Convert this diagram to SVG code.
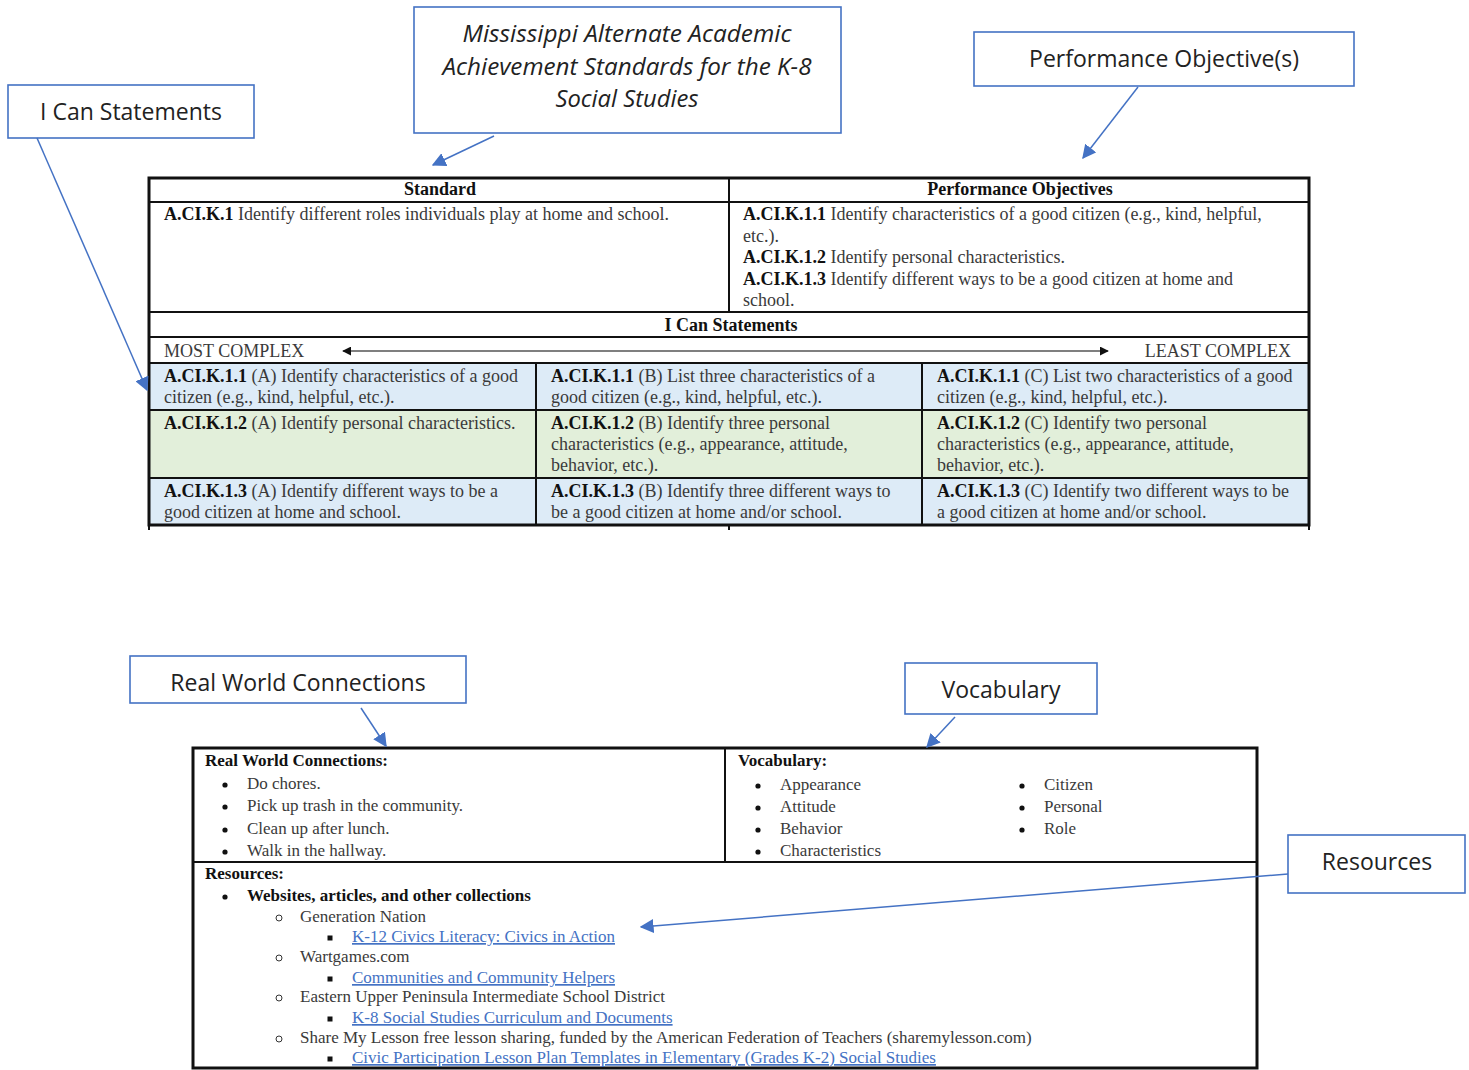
<svg xmlns="http://www.w3.org/2000/svg" width="1469" height="1070" viewBox="0 0 1469 1070">
<defs>
<style>
.call{fill:#fff;stroke:#4472C4;stroke-width:1.6}
.ct{font-family:"Open Sans","Noto Sans",sans-serif;font-size:23px;fill:#222;text-anchor:middle}
.it{font-style:italic}
.conn{stroke:#4472C4;stroke-width:1.5;fill:none}
.tb{font-family:"Liberation Serif","Times New Roman",serif;font-size:18px;fill:#3a3a3a}
.tb2{font-family:"Liberation Serif","Times New Roman",serif;font-size:17px;fill:#3a3a3a}
.b{font-weight:bold;fill:#111}
.hd{font-weight:bold;fill:#111;text-anchor:middle}
.ln{stroke:#111;stroke-width:2;fill:none}
.ol{stroke:#111;stroke-width:3;fill:none}
.lk{fill:#4472C4;text-decoration:underline}
.blue{fill:#DDEBF7}
.green{fill:#E2EFDA}
</style>
<marker id="ah" viewBox="0 0 10 10" refX="9" refY="5" markerWidth="14" markerHeight="14" markerUnits="userSpaceOnUse" orient="auto">
<path d="M0,0 L10,5 L0,10 z" fill="#4472C4"/>
</marker>
<marker id="bk" viewBox="0 0 10 10" refX="9" refY="5" markerWidth="9" markerHeight="9" markerUnits="userSpaceOnUse" orient="auto">
<path d="M0,0 L10,5 L0,10 z" fill="#111"/>
</marker>
<marker id="bks" viewBox="0 0 10 10" refX="1" refY="5" markerWidth="9" markerHeight="9" markerUnits="userSpaceOnUse" orient="auto">
<path d="M10,0 L0,5 L10,10 z" fill="#111"/>
</marker>
</defs>
<rect width="1469" height="1070" fill="#fff"/>

<!-- Top table -->
<g id="top-table">
<rect class="blue" x="149" y="363" width="1160" height="47"/>
<rect class="green" x="149" y="410" width="1160" height="68"/>
<rect class="blue" x="149" y="478" width="1160" height="47"/>
<rect class="ol" x="149" y="178" width="1160" height="347"/>
<line class="ln" x1="149" y1="202" x2="1309" y2="202"/>
<line class="ln" x1="149" y1="312" x2="1309" y2="312"/>
<line class="ln" x1="149" y1="337" x2="1309" y2="337"/>
<line class="ln" x1="149" y1="363" x2="1309" y2="363"/>
<line class="ln" x1="149" y1="410" x2="1309" y2="410"/>
<line class="ln" x1="149" y1="478" x2="1309" y2="478"/>
<line class="ln" x1="729" y1="178" x2="729" y2="312"/>
<line class="ln" x1="536" y1="363" x2="536" y2="525"/>
<line class="ln" x1="922" y1="363" x2="922" y2="525"/>
<line class="ln" x1="149" y1="525" x2="149" y2="530"/>
<line class="ln" x1="729" y1="525" x2="729" y2="530"/>
<line class="ln" x1="1309" y1="525" x2="1309" y2="530"/>
<g class="tb">
<text x="440" y="195" class="hd">Standard</text>
<text x="1020" y="195" class="hd">Performance Objectives</text>
<text x="164" y="220"><tspan class="b">A.CI.K.1</tspan> Identify different roles individuals play at home and school.</text>
<text x="743" y="220"><tspan class="b">A.CI.K.1.1</tspan> Identify characteristics of a good citizen (e.g., kind, helpful,</text>
<text x="743" y="242">etc.).</text>
<text x="743" y="263"><tspan class="b">A.CI.K.1.2</tspan> Identify personal characteristics.</text>
<text x="743" y="285"><tspan class="b">A.CI.K.1.3</tspan> Identify different ways to be a good citizen at home and</text>
<text x="743" y="306">school.</text>
<text x="731" y="331" class="hd">I Can Statements</text>
<text x="164" y="357">MOST COMPLEX</text>
<text x="1291" y="357" text-anchor="end">LEAST COMPLEX</text>
<text x="164" y="382"><tspan class="b">A.CI.K.1.1</tspan> (A) Identify characteristics of a good</text>
<text x="164" y="403">citizen (e.g., kind, helpful, etc.).</text>
<text x="551" y="382"><tspan class="b">A.CI.K.1.1</tspan> (B) List three characteristics of a</text>
<text x="551" y="403">good citizen (e.g., kind, helpful, etc.).</text>
<text x="937" y="382"><tspan class="b">A.CI.K.1.1</tspan> (C) List two characteristics of a good</text>
<text x="937" y="403">citizen (e.g., kind, helpful, etc.).</text>
<text x="164" y="429"><tspan class="b">A.CI.K.1.2</tspan> (A) Identify personal characteristics.</text>
<text x="551" y="429"><tspan class="b">A.CI.K.1.2</tspan> (B) Identify three personal</text>
<text x="551" y="450">characteristics (e.g., appearance, attitude,</text>
<text x="551" y="471">behavior, etc.).</text>
<text x="937" y="429"><tspan class="b">A.CI.K.1.2</tspan> (C) Identify two personal</text>
<text x="937" y="450">characteristics (e.g., appearance, attitude,</text>
<text x="937" y="471">behavior, etc.).</text>
<text x="164" y="497"><tspan class="b">A.CI.K.1.3</tspan> (A) Identify different ways to be a</text>
<text x="164" y="518">good citizen at home and school.</text>
<text x="551" y="497"><tspan class="b">A.CI.K.1.3</tspan> (B) Identify three different ways to</text>
<text x="551" y="518">be a good citizen at home and/or school.</text>
<text x="937" y="497"><tspan class="b">A.CI.K.1.3</tspan> (C) Identify two different ways to be</text>
<text x="937" y="518">a good citizen at home and/or school.</text>
</g>
<line x1="343" y1="351" x2="1108" y2="351" stroke="#555" stroke-width="1.5" marker-start="url(#bks)" marker-end="url(#bk)"/>
</g>

<!-- Bottom table -->
<g id="bottom-table">
<rect class="ol" x="193" y="748" width="1064" height="320"/>
<line class="ln" x1="193" y1="862" x2="1257" y2="862"/>
<line class="ln" x1="725" y1="748" x2="725" y2="862"/>
<g class="tb2">
<text x="205" y="766" class="b">Real World Connections:</text>
<circle cx="225" cy="785" r="2.6" fill="#111"/><text x="247" y="789">Do chores.</text>
<circle cx="225" cy="807" r="2.6" fill="#111"/><text x="247" y="811">Pick up trash in the community.</text>
<circle cx="225" cy="830" r="2.6" fill="#111"/><text x="247" y="834">Clean up after lunch.</text>
<circle cx="225" cy="852" r="2.6" fill="#111"/><text x="247" y="856">Walk in the hallway.</text>
<text x="738" y="766" class="b">Vocabulary:</text>
<circle cx="758" cy="786" r="2.6" fill="#111"/><text x="780" y="790">Appearance</text>
<circle cx="758" cy="808" r="2.6" fill="#111"/><text x="780" y="812">Attitude</text>
<circle cx="758" cy="830" r="2.6" fill="#111"/><text x="780" y="834">Behavior</text>
<circle cx="758" cy="852" r="2.6" fill="#111"/><text x="780" y="856">Characteristics</text>
<circle cx="1022" cy="786" r="2.6" fill="#111"/><text x="1044" y="790">Citizen</text>
<circle cx="1022" cy="808" r="2.6" fill="#111"/><text x="1044" y="812">Personal</text>
<circle cx="1022" cy="830" r="2.6" fill="#111"/><text x="1044" y="834">Role</text>
<text x="205" y="879" class="b">Resources:</text>
<circle cx="225" cy="897" r="2.6" fill="#111"/><text x="247" y="901" class="b">Websites, articles, and other collections</text>
<circle cx="279" cy="918" r="3" fill="none" stroke="#333" stroke-width="1"/><text x="300" y="922">Generation Nation</text>
<rect x="327.5" y="935.5" width="5" height="5" fill="#111"/><text x="352" y="942" class="lk">K-12 Civics Literacy: Civics in Action</text>
<circle cx="279" cy="958" r="3" fill="none" stroke="#333" stroke-width="1"/><text x="300" y="962">Wartgames.com</text>
<rect x="327.5" y="976.5" width="5" height="5" fill="#111"/><text x="352" y="983" class="lk">Communities and Community Helpers</text>
<circle cx="279" cy="998" r="3" fill="none" stroke="#333" stroke-width="1"/><text x="300" y="1002">Eastern Upper Peninsula Intermediate School District</text>
<rect x="327.5" y="1016.5" width="5" height="5" fill="#111"/><text x="352" y="1023" class="lk">K-8 Social Studies Curriculum and Documents</text>
<circle cx="279" cy="1039" r="3" fill="none" stroke="#333" stroke-width="1"/><text x="300" y="1043">Share My Lesson free lesson sharing, funded by the American Federation of Teachers (sharemylesson.com)</text>
<rect x="327.5" y="1056.5" width="5" height="5" fill="#111"/><text x="352" y="1063" class="lk">Civic Participation Lesson Plan Templates in Elementary (Grades K-2) Social Studies</text>
</g>
</g>

<!-- Callout nodes -->
<g id="callout-ican">
<rect class="call" x="8" y="85" width="246" height="53"/>
<text class="ct" x="131" y="120">I Can Statements</text>
</g>
<g id="callout-standards">
<rect class="call" x="414" y="7" width="427" height="126"/>
<text class="ct it" x="627" y="42" textLength="329" lengthAdjust="spacingAndGlyphs">Mississippi Alternate Academic</text>
<text class="ct it" x="627" y="75" textLength="369" lengthAdjust="spacingAndGlyphs">Achievement Standards for the K-8</text>
<text class="ct it" x="627" y="107" textLength="143" lengthAdjust="spacingAndGlyphs">Social Studies</text>
</g>
<g id="callout-po">
<rect class="call" x="974" y="32" width="380" height="54"/>
<text class="ct" x="1164" y="67">Performance Objective(s)</text>
</g>
<g id="callout-rwc">
<rect class="call" x="130" y="656" width="336" height="47"/>
<text class="ct" x="298" y="691">Real World Connections</text>
</g>
<g id="callout-vocab">
<rect class="call" x="905" y="663" width="192" height="51"/>
<text class="ct" x="1001" y="698">Vocabulary</text>
</g>
<g id="callout-resources">
<rect class="call" x="1288" y="835" width="177" height="58"/>
<text class="ct" x="1377" y="870">Resources</text>
</g>

<!-- Connectors -->
<g id="connectors">
<line class="conn" x1="37" y1="138" x2="147" y2="390" marker-end="url(#ah)"/>
<line class="conn" x1="494" y1="136" x2="433" y2="165" marker-end="url(#ah)"/>
<line class="conn" x1="1138" y1="87" x2="1083" y2="158" marker-end="url(#ah)"/>
<line class="conn" x1="361" y1="708" x2="386" y2="746" marker-end="url(#ah)"/>
<line class="conn" x1="955" y1="717" x2="927" y2="747" marker-end="url(#ah)"/>
<line class="conn" x1="1288" y1="874" x2="641" y2="927" marker-end="url(#ah)"/>
</g>
</svg>
